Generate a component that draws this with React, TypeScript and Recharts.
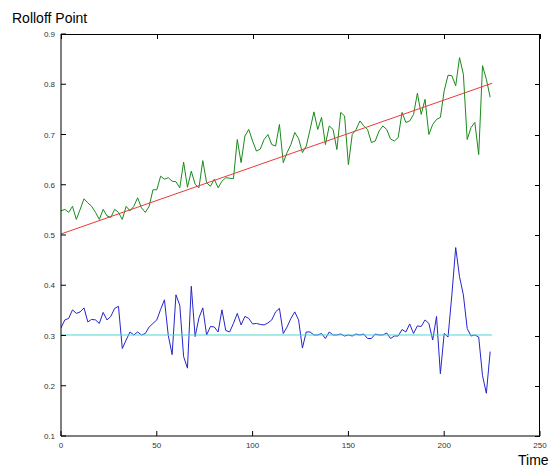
import { LineChart, Line, XAxis, YAxis } from 'recharts';

// sample times (frames)
const times = [
  0, 2, 4, 6, 8, 10, 12, 14, 16, 18, 20, 22, 24, 26, 28, 30, 32, 34, 36, 38,
  40, 42, 44, 46, 48, 50, 52, 54, 56, 58, 60, 62, 64, 66, 68, 70, 72, 74, 76, 78,
  80, 82, 84, 86, 88, 90, 92, 94, 96, 98, 100, 102, 104, 106, 108, 110, 112, 114, 116, 118,
  120, 122, 124, 126, 128, 130, 132, 134, 136, 138, 140, 142, 144, 146, 148, 150, 152, 154, 156, 158,
  160, 162, 164, 166, 168, 170, 172, 174, 176, 178, 180, 182, 184, 186, 188, 190, 192, 194, 196, 198,
  200, 202, 204, 206, 208, 210, 212, 214, 216, 218, 220, 222, 224,
];

// upper rolloff curve (green)
const rolloffHigh = [
  0.548, 0.551, 0.545, 0.557, 0.531, 0.551, 0.572, 0.564, 0.557, 0.545, 0.531, 0.551, 0.538, 0.535, 0.551, 0.545, 0.531, 0.557, 0.548, 0.557,
  0.574, 0.554, 0.545, 0.557, 0.590, 0.590, 0.617, 0.611, 0.614, 0.607, 0.606, 0.594, 0.645, 0.595, 0.627, 0.601, 0.594, 0.648, 0.604, 0.597,
  0.611, 0.594, 0.607, 0.614, 0.613, 0.612, 0.690, 0.644, 0.697, 0.710, 0.687, 0.667, 0.671, 0.690, 0.700, 0.680, 0.677, 0.720, 0.644, 0.664,
  0.680, 0.704, 0.692, 0.664, 0.677, 0.710, 0.745, 0.710, 0.734, 0.680, 0.717, 0.710, 0.670, 0.744, 0.737, 0.640, 0.700, 0.710, 0.727, 0.717,
  0.710, 0.684, 0.687, 0.707, 0.717, 0.710, 0.691, 0.687, 0.694, 0.744, 0.724, 0.727, 0.740, 0.782, 0.740, 0.770, 0.700, 0.720, 0.730, 0.734,
  0.787, 0.818, 0.817, 0.797, 0.853, 0.820, 0.690, 0.714, 0.724, 0.660, 0.837, 0.810, 0.774,
];

// lower rolloff curve (blue)
const rolloffLow = [
  0.315, 0.331, 0.334, 0.351, 0.344, 0.347, 0.355, 0.327, 0.332, 0.331, 0.324, 0.346, 0.331, 0.338, 0.354, 0.358, 0.274, 0.291, 0.307, 0.301,
  0.307, 0.301, 0.304, 0.317, 0.324, 0.331, 0.352, 0.371, 0.300, 0.262, 0.381, 0.360, 0.258, 0.235, 0.398, 0.298, 0.335, 0.355, 0.301, 0.318,
  0.317, 0.307, 0.351, 0.310, 0.307, 0.324, 0.344, 0.321, 0.338, 0.334, 0.323, 0.324, 0.322, 0.321, 0.325, 0.331, 0.347, 0.354, 0.304, 0.317,
  0.334, 0.347, 0.331, 0.275, 0.307, 0.307, 0.301, 0.301, 0.304, 0.294, 0.307, 0.301, 0.301, 0.303, 0.299, 0.301, 0.299, 0.303, 0.301, 0.303,
  0.294, 0.294, 0.303, 0.301, 0.301, 0.305, 0.294, 0.299, 0.299, 0.312, 0.307, 0.323, 0.304, 0.319, 0.318, 0.331, 0.324, 0.291, 0.338, 0.224,
  0.304, 0.297, 0.381, 0.475, 0.417, 0.381, 0.314, 0.299, 0.301, 0.297, 0.220, 0.185, 0.268,
];

// fitted trend (red) and mean level (cyan), endpoints only
const fitTimes = [0, 225];
const trendHigh = [0.502, 0.802];
const levelLow = [0.301, 0.301];

const xTicks = [0, 50, 100, 150, 200, 250];
const yTicks = [0.1, 0.2, 0.3, 0.4, 0.5, 0.6, 0.7, 0.8, 0.9];
const xMin = 0;
const xMax = 250;
const yMin = 0.1;
const yMax = 0.9;

// one table: noisy curves on every sample, fit lines only at their end points
const rows: any[] = times.map((t, i) => ({ t, high: rolloffHigh[i], low: rolloffLow[i] }));
fitTimes.forEach((t, i) => {
  let row = rows.find((r) => r.t === t);
  if (!row) {
    row = { t };
    rows.push(row);
  }
  row.trend = trendHigh[i];
  row.level = levelLow[i];
});
rows.sort((a, b) => a.t - b.t);

const FONT = '"Liberation Sans", Arial, sans-serif';
const TICK_LEN = 5;

// plot box in page pixels (matches the chart margins below)
const W = 559;
const H = 470;
const M = { top: 34, right: 19, left: 0, bottom: 14 };
const Y_AXIS_W = 61;
const X_AXIS_H = 20;
const boxL = M.left + Y_AXIS_W;
const boxR = W - M.right;
const boxT = M.top;
const boxB = H - M.bottom - X_AXIS_H;

// MATLAB style ticks: label outside, mark pointing inward
const LeftTick = ({ x, y, payload }: any) => (
  <g>
    <line x1={x + 6} y1={y} x2={x + 6 + TICK_LEN} y2={y} stroke="#000" />
    <text x={x} y={y} dy={3} textAnchor="end" fontSize={8} fill="#333" fontFamily={FONT}>
      {payload.value}
    </text>
  </g>
);

const BottomTick = ({ x, y, payload }: any) => (
  <g>
    <line x1={x} y1={y - 4} x2={x} y2={y - 4 - TICK_LEN} stroke="#000" />
    <text x={x} y={y} dy={8} textAnchor="middle" fontSize={8} fill="#333" fontFamily={FONT}>
      {payload.value}
    </text>
  </g>
);

// top and right edges of the axes box, with their inward tick marks
const BoxFrame = () => {
  const tx = (v: number) => Math.round(boxL + ((v - xMin) / (xMax - xMin)) * (boxR - boxL));
  const ty = (v: number) => Math.round(boxB - ((v - yMin) / (yMax - yMin)) * (boxB - boxT));
  return (
    <>
      <div
        style={{
          position: 'absolute',
          left: boxL,
          top: boxT,
          width: boxR - boxL,
          height: boxB - boxT,
          borderTop: '1px solid #000',
          borderRight: '1px solid #000',
          boxSizing: 'border-box',
          zIndex: 5,
          pointerEvents: 'none',
        }}
      />
      {yTicks.map((v) => (
        <div
          key={'r' + v}
          style={{ position: 'absolute', left: boxR - TICK_LEN, top: ty(v), width: TICK_LEN, height: 1, background: '#000', zIndex: 5 }}
        />
      ))}
      {xTicks.map((v) => (
        <div
          key={'t' + v}
          style={{ position: 'absolute', left: tx(v), top: boxT, width: 1, height: TICK_LEN, background: '#000', zIndex: 5 }}
        />
      ))}
    </>
  );
};

export default function App() {
  return (
    <div style={{ position: 'absolute', left: 0, top: 0, width: W, height: H, background: '#fff', fontFamily: FONT }}>
      <div style={{ position: 'absolute', left: 12, top: 10, fontSize: 14, color: '#000' }}>Rolloff Point</div>
      <div style={{ position: 'absolute', left: 518, top: 452, fontSize: 14, color: '#000' }}>Time</div>
      <div style={{ position: 'absolute', left: 0, top: 0 }}>
        <LineChart width={W} height={H} data={rows} margin={M}>
          <XAxis
            type="number"
            dataKey="t"
            domain={[xMin, xMax]}
            ticks={xTicks}
            allowDataOverflow
            height={X_AXIS_H}
            tickSize={0}
            tickMargin={4}
            tickLine={false}
            axisLine={{ stroke: '#000' }}
            tick={<BottomTick />}
          />
          <YAxis
            type="number"
            domain={[yMin, yMax]}
            ticks={yTicks}
            allowDataOverflow
            width={Y_AXIS_W}
            tickSize={0}
            tickMargin={6}
            tickLine={false}
            axisLine={{ stroke: '#000' }}
            tick={<LeftTick />}
          />
          <Line dataKey="high" type="linear" stroke="#1a8a1a" strokeWidth={1} dot={false} connectNulls isAnimationActive={false} />
          <Line dataKey="trend" type="linear" stroke="#e83a3a" strokeWidth={1} dot={false} connectNulls isAnimationActive={false} />
          <Line dataKey="low" type="linear" stroke="#2525cc" strokeWidth={1} dot={false} connectNulls isAnimationActive={false} />
          <Line dataKey="level" type="linear" stroke="#4fd4d4" strokeWidth={1} dot={false} connectNulls isAnimationActive={false} />
        </LineChart>
      </div>
      <BoxFrame />
    </div>
  );
}
